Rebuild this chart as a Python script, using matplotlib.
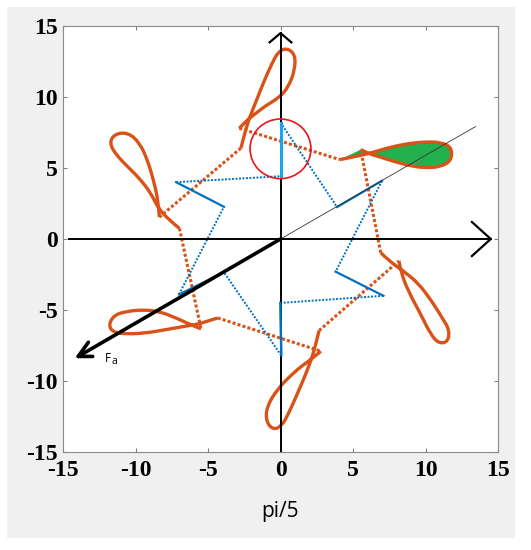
import matplotlib
matplotlib.use('Agg')
import matplotlib.pyplot as plt
from matplotlib.patches import Circle, Rectangle, PathPatch
from matplotlib.path import Path

# ---------------- data ----------------
# blue star polygon (closed), segment i joins vertex i and i+1
star_x = [0.0, 3.9, 7.0, 3.8, 7.1, 0.0, 0.05, -3.9, -7.0, -3.9, -7.2, 0.0]
star_y = [8.2, 2.25, 4.1, -2.3, -4.0, -4.5, -8.2, -2.35, -3.9, 2.27, 4.0, 4.42]
star_style = ['dot', 'solid', 'dot', 'solid', 'dot', 'solid',
              'dot', 'solid', 'dot', 'solid', 'dot', 'hi']

# orange loops (control points of smooth curves)
top_x = [-2.73, -2.5, -2.15, -1.69, -1.15, -0.6, -0.15, 0.45, 1.0, 1.0, 0.55, -0.09, -1.0, -1.69, -2.15, -2.73, -2.84]
top_y = [6.40, 7.34, 8.51, 9.68, 11.08, 12.35, 13.2, 13.45, 13.0, 11.95, 10.7, 9.96, 9.4, 8.86, 8.51, 7.92, 7.80]

ul_x = [-8.35, -8.42, -8.5, -8.75, -9.15, -9.7, -10.5, -11.45, -11.8, -11.35, -10.6, -9.75, -8.95, -8.45, -7.7, -6.97]
ul_y = [1.54, 2.2, 3.0, 4.1, 5.5, 6.75, 7.5, 7.4, 6.75, 5.95, 5.15, 4.3, 3.25, 2.2, 1.35, 0.75]

ur_x = [4.09, 4.96, 6.1, 7.25, 8.63, 10.01, 11.1, 11.8, 11.8, 11.1, 10.01, 8.86, 7.71, 6.79, 6.1, 5.53]
ur_y = [5.59, 5.77, 6.01, 6.38, 6.7, 6.85, 6.8, 6.45, 5.55, 5.1, 5.0, 5.17, 5.5, 5.8, 6.01, 6.29]

ll_x = [-4.33, -5.6, -6.17, -6.74, -7.89, -9.26, -10.64, -11.6, -11.85, -11.45, -10.64, -9.5, -8.35, -7.2, -6.17, -5.48]
ll_y = [-5.56, -5.98, -6.08, -6.17, -6.38, -6.62, -6.7, -6.55, -6.0, -5.35, -5.1, -4.98, -5.1, -5.56, -6.05, -6.33]

bot_x = [2.66, 2.44, 2.16, 1.75, 1.17, 0.55, 0.1, -0.5, -1.0, -0.95, -0.2, 0.83, 1.51, 2.16, 2.78]
bot_y = [-6.45, -7.38, -8.39, -9.49, -10.89, -12.3, -13.15, -13.45, -12.85, -11.8, -10.55, -9.49, -8.91, -8.44, -7.9]

lr_x = [8.17, 8.3, 8.86, 9.66, 10.35, 10.9, 11.55, 11.65, 11.15, 10.45, 9.5, 8.45, 7.48, 6.91]
lr_y = [-1.54, -2.36, -3.77, -5.28, -6.7, -7.35, -7.25, -6.4, -5.55, -4.4, -3.1, -2.24, -1.54, -0.96]

# axis arrows, reference line, force arrow
h_axis_x = [-14.6, 14.5]
v_axis_y = [-15.0, 14.5]
ref_line_end = (13.45, 7.92)
fa_tip = (-13.95, -8.27)
circle_center = (0.0, 6.35)
circle_radius = 2.1

ticks = [-15, -10, -5, 0, 5, 10, 15]
xlabel = 'pi/5'

ORANGE = '#D95319'
BLUE = '#0072BD'
LIGHTBLUE = '#18A4F0'
GREEN = '#22B14C'


def smooth_path(xs, ys, close=False):
    pts = list(zip(xs, ys))
    verts = [pts[0]]
    codes = [Path.MOVETO]
    for i in range(1, len(pts) - 2):
        mid = ((pts[i][0] + pts[i + 1][0]) / 2, (pts[i][1] + pts[i + 1][1]) / 2)
        verts += [pts[i], mid]
        codes += [Path.CURVE3, Path.CURVE3]
    verts += [pts[-2], pts[-1]]
    codes += [Path.CURVE3, Path.CURVE3]
    if close:
        verts.append(pts[0])
        codes.append(Path.CLOSEPOLY)
    return Path(verts, codes)


# ---------------- figure ----------------
fig = plt.figure(figsize=(5.31, 5.50), dpi=100, facecolor='white')
fig.add_artist(Rectangle((7 / 531, 1 - 538 / 550), (515 - 7) / 531, (538 - 7) / 550,
                         transform=fig.transFigure, facecolor='#f0f0f0',
                         edgecolor='none', zorder=-10))
ax = fig.add_axes([63 / 531, 1 - 452 / 550, 435 / 531, 426 / 550])
ax.set_xlim(-15, 15)
ax.set_ylim(-15, 15)
ax.set_facecolor('white')

# green fill of upper-right loop
ax.add_patch(PathPatch(smooth_path(ur_x, ur_y, close=True), facecolor=GREEN,
                       edgecolor='none', zorder=2))

# orange loops
for lx, ly in [(top_x, top_y), (ul_x, ul_y), (ur_x, ur_y), (ll_x, ll_y), (bot_x, bot_y), (lr_x, lr_y)]:
    ax.add_patch(PathPatch(smooth_path(lx, ly), facecolor='none', edgecolor=ORANGE,
                           lw=2.4, joinstyle='round', capstyle='butt', zorder=3))

# orange dotted connectors
conns = [((top_x[-1], top_y[-1]), (ur_x[0], ur_y[0])),
         ((top_x[0], top_y[0]), (ul_x[0], ul_y[0])),
         ((ul_x[-1], ul_y[-1]), (ll_x[-1], ll_y[-1])),
         ((ll_x[0], ll_y[0]), (bot_x[-1], bot_y[-1])),
         ((bot_x[0], bot_y[0]), (lr_x[0], lr_y[0])),
         ((lr_x[-1], lr_y[-1]), (ur_x[-1], ur_y[-1]))]
for (x0, y0), (x1, y1) in conns:
    ax.plot([x0, x1], [y0, y1], color=ORANGE, lw=2.2, dashes=(1, 0.7), zorder=3)

# blue star
n = len(star_x)
for i in range(n):
    j = (i + 1) % n
    xs = [star_x[i], star_x[j]]
    ys = [star_y[i], star_y[j]]
    st = star_style[i]
    if st == 'dot':
        ax.plot(xs, ys, color=BLUE, lw=1.4, dashes=(1, 0.8), zorder=4)
    elif st == 'solid':
        ax.plot(xs, ys, color=BLUE, lw=1.6, zorder=4)

# black axes arrows
ax.plot(h_axis_x, [0, 0], color='black', lw=1.4, zorder=5)
ax.plot([0, 0], v_axis_y, color='black', lw=1.4, zorder=5)
ax.plot([h_axis_x[1] - 1.3, h_axis_x[1], h_axis_x[1] - 1.3], [1.2, 0, -1.2], color='black', lw=1.6, zorder=5)
ax.plot([-0.75, 0, 0.75], [v_axis_y[1] - 0.65, v_axis_y[1], v_axis_y[1] - 0.65], color='black', lw=1.6, zorder=5)

# thin reference line
ax.plot([0, ref_line_end[0]], [0, ref_line_end[1]], color='#333333', lw=0.6, zorder=5)

# highlighted blue segment (on top of axis)
i = star_style.index('hi')
ax.plot([star_x[i], star_x[(i + 1) % n]], [star_y[i], star_y[(i + 1) % n]], color=LIGHTBLUE, lw=2.2, zorder=6)
ax.plot([star_x[5], star_x[6]], [star_y[5], star_y[6]], color=BLUE, lw=1.6, zorder=6)

# Fa arrow
ax.plot([0, fa_tip[0]], [0, fa_tip[1]], color='black', lw=2.6, solid_capstyle='round', zorder=6)
ax.plot([fa_tip[0] + 1.0, fa_tip[0], fa_tip[0] + 0.7], [fa_tip[1], fa_tip[1], fa_tip[1] + 1.0],
        color='black', lw=2.6, solid_joinstyle='round', solid_capstyle='round', zorder=6)
ax.text(fa_tip[0] + 1.85, fa_tip[1] - 0.15, 'F', fontsize=8.5, va='center', ha='left', color='black',
        family='Open Sans')
ax.text(fa_tip[0] + 2.3, fa_tip[1] - 0.35, 'a', fontsize=7.5, va='center', ha='left', color='black',
        family='Open Sans')

# red circle
ax.add_patch(Circle(circle_center, circle_radius, fill=False, edgecolor='#E8141E', lw=1.2, zorder=7))

# ticks & labels
ax.set_xticks(ticks)
ax.set_yticks(ticks)
ax.set_xticklabels([str(t) for t in ticks])
ax.set_yticklabels([str(t) for t in ticks])
for lab in ax.get_xticklabels() + ax.get_yticklabels():
    lab.set_family('Liberation Serif')
    lab.set_fontweight('bold')
    lab.set_fontsize(17)
ax.tick_params(direction='in', length=3, width=0.8, color='#808080', top=True, right=True)
ax.tick_params(axis='x', pad=6)
ax.tick_params(axis='y', pad=4)
for s in ax.spines.values():
    s.set_color('#8a8a8a')
    s.set_linewidth(0.8)
ax.set_xlabel(xlabel, fontsize=15, family='Open Sans', labelpad=14)

fig.savefig('out.png', dpi=100, facecolor=fig.get_facecolor())
